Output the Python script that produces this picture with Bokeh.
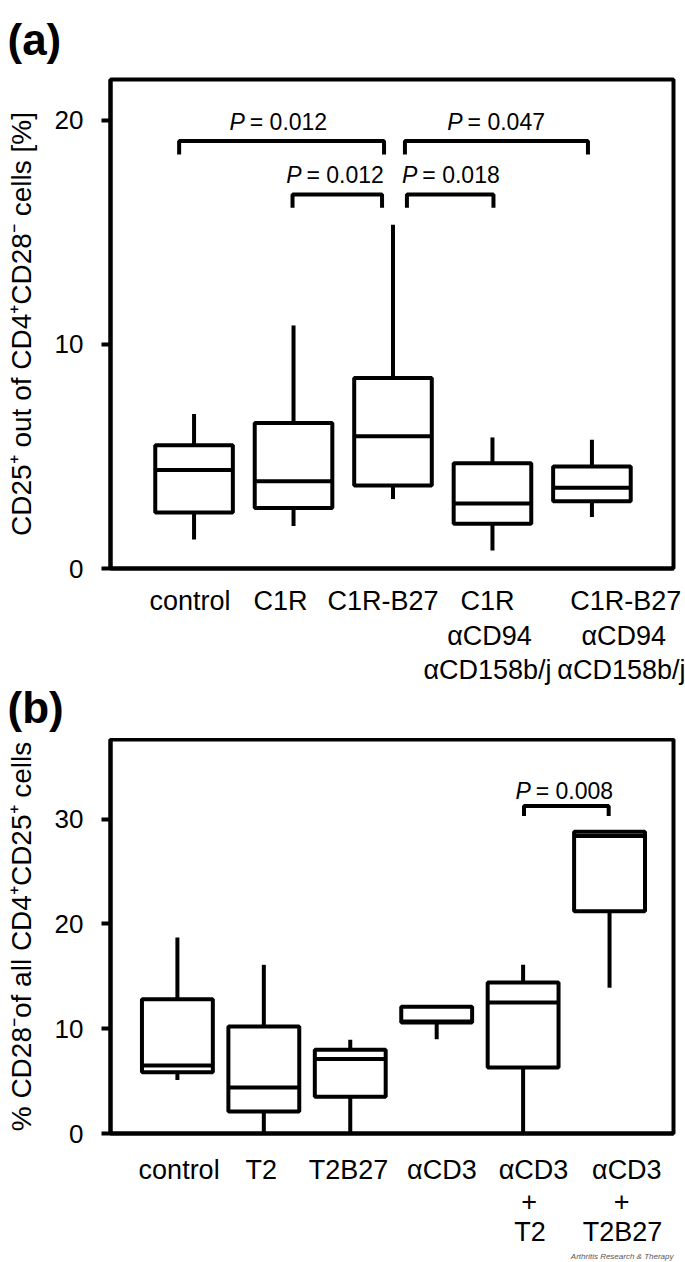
from bokeh.plotting import figure
from bokeh.models import FixedTicker, LinearAxis, Range1d, Title
from bokeh.layouts import column
from bokeh.embed import file_html
from bokeh.resources import INLINE
from bokeh.core.properties import value

FONT = "Liberation Sans"

# ---------------- data: panel (a) ----------------
a_pos = [1, 2, 3, 4, 5]
a_low = [1.3, 1.9, 3.1, 0.8, 2.3]
a_q1 = [2.5, 2.7, 3.7, 2.0, 3.0]
a_med = [4.4, 3.9, 5.9, 2.9, 3.6]
a_q3 = [5.5, 6.5, 8.5, 4.7, 4.55]
a_high = [6.9, 10.85, 15.35, 5.85, 5.75]
a_line1 = ["control", "C1R", "C1R-B27", "C1R", "C1R-B27"]
a_line2 = ["\u03b1CD94", "\u03b1CD94"]
a_line3 = ["\u03b1CD158b/j", "\u03b1CD158b/j"]
a_yticks = [0, 10, 20]
a_pvalues = ["0.012", "0.047", "0.012", "0.018"]
a_pairs = [(1, 3), (3, 5), (2, 3), (3, 4)]

# ---------------- data: panel (b) ----------------
b_pos = [1, 2, 3, 4, 5, 6]
b_low = [5.1, 0.0, 0.0, 9.0, 0.0, 13.9]
b_q1 = [5.85, 2.1, 3.5, 10.6, 6.3, 21.2]
b_med = [6.5, 4.4, 7.1, 10.7, 12.5, 28.4]
b_q3 = [12.8, 10.2, 8.0, 12.1, 14.4, 28.8]
b_high = [18.7, 16.1, 8.95, 12.1, 16.1, 28.8]
b_line1 = ["control", "T2", "T2B27", "\u03b1CD3", "\u03b1CD3", "\u03b1CD3"]
b_line2 = ["+", "+"]
b_line3 = ["T2", "T2B27"]
b_yticks = [0, 10, 20, 30]
b_pvalues = ["0.008"]
b_pairs = [(5, 6)]

# ---------------- layout constants ----------------
W = 685
XLAB = "27px"
TICK = "26px"
PTXT = "23px"
YLAB = "28px"
PANEL = "44px"


def label_axis(p, ticks, labels, standoff, first=False):
    if first:
        ax = p.xaxis[0]
    else:
        ax = LinearAxis()
        p.add_layout(ax, "below")
    ax.ticker = FixedTicker(ticks=ticks, minor_ticks=[])
    ax.major_label_overrides = {t: s for t, s in zip(ticks, labels)}
    ax.major_tick_line_color = None
    ax.minor_tick_line_color = None
    ax.major_tick_out = 0
    ax.major_tick_in = 0
    ax.major_label_standoff = standoff
    ax.major_label_text_font = FONT
    ax.major_label_text_font_size = XLAB
    ax.major_label_text_color = "black"
    if first:
        ax.axis_line_width = 4
        ax.axis_line_color = "black"
    else:
        ax.axis_line_color = None
    return ax


def make_panel(xr, ytop, height, top, bottom, pos, low, q1, med, q3, high,
               box_w, yticks, ylabel, lines, line_ticks, pairs, pvalues,
               br_x_in, br_y, br_drop, txt_y, txt_dx, standoffs):
    p = figure(width=W, height=height, x_range=Range1d(*xr), y_range=Range1d(0, ytop),
               output_backend="svg", toolbar_location=None,
               min_border_left=110, min_border_right=12,
               min_border_top=top, min_border_bottom=bottom)
    p.outline_line_color = "black"
    p.outline_line_width = 4
    p.outline_line_alpha = 1
    p.xgrid.visible = False
    p.ygrid.visible = False
    p.background_fill_color = "white"
    p.border_fill_color = "white"

    # whiskers
    p.segment(x0=pos, y0=q3, x1=pos, y1=high, line_color="black", line_width=4)
    p.segment(x0=pos, y0=low, x1=pos, y1=q1, line_color="black", line_width=4)
    # boxes
    p.quad(left=[x - box_w / 2 for x in pos], right=[x + box_w / 2 for x in pos],
           bottom=q1, top=q3, fill_color="white", line_color="black", line_width=4)
    # medians
    p.segment(x0=[x - box_w / 2 for x in pos], y0=med, x1=[x + box_w / 2 for x in pos],
              y1=med, line_color="black", line_width=4)

    # significance brackets
    for (i, j), pv, (dl, dr), yb, yt, dx in zip(pairs, pvalues, br_x_in, br_y, txt_y, txt_dx):
        xl = i + dl
        xr_ = j + dr
        p.multi_line(xs=[[xl, xl, xr_, xr_]], ys=[[yb - br_drop, yb, yb, yb - br_drop]],
                     line_color="black", line_width=4)
        xj = (xl + xr_) / 2 + dx
        p.text(x=[xj], y=[yt], text=["P"], text_font=value(FONT), text_font_style="italic",
               text_font_size=PTXT, text_align="right", text_baseline="alphabetic",
               x_offset=-1, text_color="black")
        p.text(x=[xj], y=[yt], text=["= " + pv], text_font=value(FONT),
               text_font_size=PTXT, text_align="left", text_baseline="alphabetic",
               x_offset=4, text_color="black")

    # y axis
    ya = p.yaxis[0]
    ya.ticker = FixedTicker(ticks=yticks, minor_ticks=[])
    ya.axis_line_width = 4
    ya.major_tick_line_width = 4
    ya.major_tick_out = 9
    ya.major_tick_in = 0
    ya.minor_tick_out = 0
    ya.minor_tick_in = 0
    ya.major_label_standoff = 18
    ya.major_label_text_font = FONT
    ya.major_label_text_font_size = TICK
    ya.major_label_text_color = "black"
    ya.axis_label = ylabel
    ya.axis_label_text_font = FONT
    ya.axis_label_text_font_size = YLAB
    ya.axis_label_text_font_style = "normal"
    ya.axis_label_text_color = "black"
    ya.axis_label_standoff = 15

    # x labels on stacked axes
    for k, (lab, tks) in enumerate(zip(lines, line_ticks)):
        label_axis(p, tks, lab, standoffs[k], first=(k == 0))
    return p


pa = make_panel(
    (0.16, 5.82), 21.83, 738, 79, 170,
    a_pos, a_low, a_q1, a_med, a_q3, a_high, 0.78, a_yticks,
    "CD25\u207a out of CD4\u207aCD28\u207b cells [%]",
    [a_line1, a_line2, a_line3],
    [[0.96, 1.87, 2.90, 3.95, 5.34], [3.97, 5.32], [3.95, 5.33]],
    a_pairs, a_pvalues,
    [(-0.15, -0.09), (0.12, -0.04), (-0.01, -0.11), (0.14, 0.01)],
    [19.08, 19.08, 16.70, 16.70], 0.6, [19.95, 19.95, 17.56, 17.56],
    [-0.36, -0.33, -0.35, -0.32],
    [17, 2, 1],
)
pa.add_layout(Title(text="(a)", text_font=FONT, text_font_size=PANEL, text_font_style="bold",
                    align="left", offset=-103, standoff=27, vertical_align="top",
                    text_color="black"), "above")
# panel letter of the second chart, placed right under the first chart's labels
pa.add_layout(Title(text="(b)", text_font=FONT, text_font_size=PANEL, text_font_style="bold",
                    align="left", offset=-103, standoff=-10, vertical_align="top",
                    text_color="black"), "below")

pb = make_panel(
    (0.226, 6.74), 37.6, 524, 1, 129,
    b_pos, b_low, b_q1, b_med, b_q3, b_high, 0.82, b_yticks,
    "% CD28\u207bof all CD4\u207aCD25\u207a cells",
    [b_line1, b_line2, b_line3],
    [[1.02, 1.97, 2.98, 4.06, 5.12, 6.20], [5.07, 6.14], [5.08, 6.15]],
    b_pairs, b_pvalues,
    [(0.01, -0.01)],
    [31.26], 0.95, [32.66],
    [-0.40],
    [21, 4, 3],
)
pb.add_layout(Title(text="Arthritis Research & Therapy", text_font=FONT, text_font_size="8px",
                    text_font_style="italic", align="right", text_color="#555555",
                    standoff=0), "below")

layout = column(pa, pb, spacing=0)
open("out.html", "w").write(file_html(layout, INLINE))
